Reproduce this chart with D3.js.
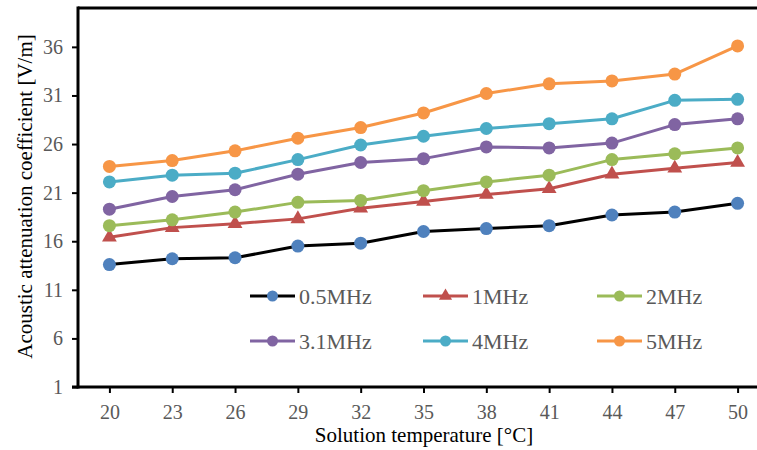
<!DOCTYPE html>
<html><head><meta charset="utf-8">
<script src="https://cdn.jsdelivr.net/npm/d3@7"></script>
<style>html,body{margin:0;padding:0;background:#fff;}svg{display:block;}</style>
</head><body>
<svg id="chart" width="757" height="450"></svg>
<script>
const temps = [20,23,26,29,32,35,38,41,44,47,50];
const seriesNames = ["0.5MHz","1MHz","2MHz","3.1MHz","4MHz","5MHz"];
const s05 = [13.6,14.2,14.3,15.5,15.8,17.0,17.3,17.6,18.7,19.0,19.9];
const s1  = [16.4,17.4,17.8,18.3,19.4,20.1,20.8,21.4,22.9,23.5,24.1];
const s2  = [17.6,18.2,19.0,20.0,20.2,21.2,22.1,22.8,24.4,25.0,25.6];
const s31 = [19.3,20.6,21.3,22.9,24.1,24.5,25.7,25.6,26.1,28.0,28.6];
const s4  = [22.1,22.8,23.0,24.4,25.9,26.8,27.6,28.1,28.6,30.5,30.6];
const s5  = [23.7,24.3,25.3,26.6,27.7,29.2,31.2,32.2,32.5,33.2,36.1];
const yTicks = [1,6,11,16,21,26,31,36];
const xTitle = "Solution temperature [°C]";
const yTitle = "Acoustic attenuation coefficient [V/m]";

const seriesValues = [s05,s1,s2,s31,s4,s5];
const lineColors = ["#000000","#C0504D","#9BBB59","#8064A2","#4BACC6","#F79646"];
const markerColors = ["#4F81BD","#C0504D","#9BBB59","#8064A2","#4BACC6","#F79646"];
const markerShapes = ["circle","triangle","circle","circle","circle","circle"];

const svg = d3.select("#chart");
const L = 78, R = 769, T = 8, B = 387;
const x = d3.scalePoint().domain(temps).range([L, R]).padding(0.5);
const y = d3.scaleLinear().domain([1, 40]).range([B, T]);
const font = "'Liberation Serif','Times New Roman',serif";
const gray = "#595959";

// series
const line = d3.line().x((d,i)=>x(temps[i])).y(d=>y(d));
seriesValues.forEach((vals, k) => {
  const g = svg.append("g");
  g.append("path").datum(vals).attr("d", line)
    .attr("fill","none").attr("stroke", lineColors[k]).attr("stroke-width",3)
    .attr("stroke-linejoin","round");
  if (markerShapes[k] === "triangle") {
    const sym = d3.symbol().type(d3.symbolTriangle).size(95);
    g.selectAll("path.m").data(vals).enter().append("path").attr("class","m")
      .attr("d", sym).attr("transform",(d,i)=>`translate(${x(temps[i])},${y(d)})`)
      .attr("fill", markerColors[k]);
  } else {
    g.selectAll("circle").data(vals).enter().append("circle")
      .attr("cx",(d,i)=>x(temps[i])).attr("cy",d=>y(d)).attr("r",6.5)
      .attr("fill", markerColors[k]);
  }
});

// axes
const yAxis = d3.axisLeft(y).tickValues(yTicks).tickSize(6).tickPadding(9).tickFormat(d3.format("d"));
const gy = svg.append("g").attr("transform",`translate(${L},0)`).call(yAxis)
  .attr("font-family",font).attr("font-size",20);
gy.select(".domain").remove();
gy.selectAll(".tick line").attr("stroke","#000").attr("stroke-width",2);
gy.selectAll(".tick text").attr("fill",gray).style("font-family",font).style("font-size","20px");

const xAxis = d3.axisBottom(x).tickSize(6).tickPadding(12);
const gx = svg.append("g").attr("transform",`translate(0,${B})`).call(xAxis)
  .attr("font-family",font).attr("font-size",20);
gx.select(".domain").remove();
gx.selectAll(".tick line").attr("stroke","#000").attr("stroke-width",2);
gx.selectAll(".tick text").attr("fill",gray).style("font-family",font).style("font-size","20px");

// frame
svg.append("line").attr("x1",L).attr("x2",L).attr("y1",T-1.5).attr("y2",B+1.5).attr("stroke","#000").attr("stroke-width",3);
svg.append("line").attr("x1",L-6).attr("x2",R).attr("y1",B).attr("y2",B).attr("stroke","#000").attr("stroke-width",3);
svg.append("line").attr("x1",L).attr("x2",R).attr("y1",T).attr("y2",T).attr("stroke","#000").attr("stroke-width",3);

// titles
svg.append("text").attr("x",424).attr("y",442).attr("text-anchor","middle")
  .style("font-family",font).style("font-size","21px").attr("fill","#000").text(xTitle);
svg.append("text").attr("transform","translate(32,196.5) rotate(-90)").attr("text-anchor","middle")
  .style("font-family",font).style("font-size","21px").attr("fill","#000").text(yTitle);

// legend
const legX = [250,423,597], legY = [296,341];
seriesNames.forEach((name,k) => {
  const lx = legX[k%3], ly = legY[Math.floor(k/3)];
  const g = svg.append("g").attr("transform",`translate(${lx},${ly})`);
  g.append("line").attr("x1",0).attr("x2",45).attr("y1",0).attr("y2",0)
    .attr("stroke",lineColors[k]).attr("stroke-width",3);
  if (markerShapes[k] === "triangle") {
    g.append("path").attr("d", d3.symbol().type(d3.symbolTriangle).size(75)()).attr("transform","translate(22.5,0)").attr("fill",markerColors[k]);
  } else {
    g.append("circle").attr("cx",22.5).attr("cy",0).attr("r",5.5).attr("fill",markerColors[k]);
  }
  g.append("text").attr("x",49).attr("y",0).attr("dy","0.35em")
    .style("font-family",font).style("font-size","22px").attr("fill",gray).text(name);
});
</script>
</body></html>
